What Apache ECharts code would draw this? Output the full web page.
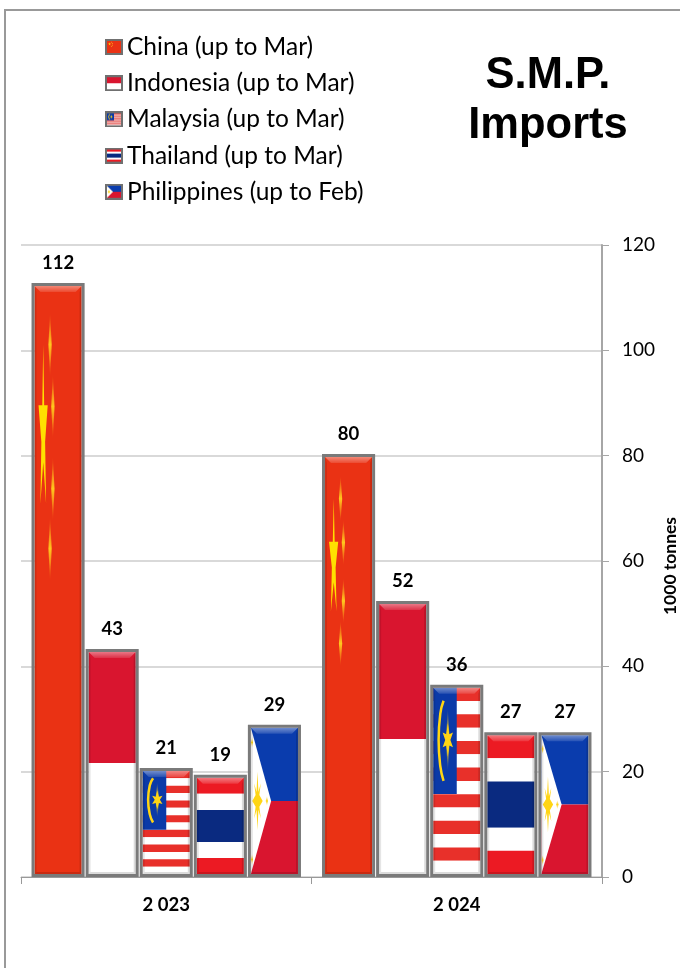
<!DOCTYPE html>
<html>
<head>
<meta charset="utf-8">
<style>html,body{margin:0;padding:0;background:#fff}#c{width:680px;height:968px}</style>
<script src="https://cdn.jsdelivr.net/npm/echarts@6/dist/echarts.min.js"></script>
</head>
<body>
<div id="c"></div>
<script>
const categories = ['2 023', '2 024'];
const china = [112.8, 80.3];
const indonesia = [43.3, 52.4];
const malaysia = [20.7, 36.5];
const thailand = [19.4, 27.5];
const philippines = [28.9, 27.5];
const chinaLabels = [112, 80];
const indonesiaLabels = [43, 52];
const malaysiaLabels = [21, 36];
const thailandLabels = [19, 27];
const philippinesLabels = [29, 27];
const seriesNames = ['China (up to Mar)', 'Indonesia (up to Mar)', 'Malaysia (up to Mar)', 'Thailand (up to Mar)', 'Philippines (up to Feb)'];

const RED_CN = '#EA3214', RED_ID = '#D9152F', RED_MY = '#E8302A', RED_TH = '#EC1A23';
const BLUE_MY = '#0B3AA8', BLUE_TH = '#0A2A80', BLUE_PH = '#0A3CAD', YEL = '#FFE000', GOLD = '#FFD514', WHITE = '#FFFFFF';

function rect(x, y, w, h, c) { return { k: 'rect', x, y, w, h, c }; }
function poly(pts, c, fade) { return { k: 'poly', pts, c, fade }; }
function spike(u, v, hu, hv, c) { return poly([[u, v - hv], [u + hu, v], [u, v + hv], [u - hu, v]], c, true); }

const flagChina = [
  rect(0, 0, 1, 1, RED_CN),
  poly([[.185, .10], [.205, .203], [.28, .203], [.225, .265], [.245, .37], [.185, .30], [.125, .37], [.145, .265], [.085, .203], [.165, .203]], YEL),
  spike(.33, .10, .035, .055, '#FFC81E'),
  spike(.39, .205, .035, .055, '#FFC81E'),
  spike(.39, .345, .035, .055, '#FFC81E'),
  spike(.33, .447, .035, .055, '#FFC81E')
];
const flagIndonesia = [rect(0, 0, 1, .5, RED_ID), rect(0, .5, 1, .5, WHITE)];
const stripes = [];
for (let i = 0; i < 14; i++) stripes.push(rect(0, i / 14, 1, 1 / 14, i % 2 ? WHITE : RED_MY));
const flagMalaysia = stripes.concat([
  rect(0, 0, .5, .57, BLUE_MY),
  { k: 'line', pts: [[.22, .07], [.15, .14], [.115, .28], [.15, .42], [.22, .50]], c: GOLD },
  spike(.31, .28, .04, .17, GOLD),
  poly([[.31, .19], [.34, .25], [.42, .24], [.365, .28], [.42, .32], [.34, .31], [.31, .37], [.28, .31], [.2, .32], [.255, .28], [.2, .24], [.28, .25]], GOLD)
]);
const flagThailand = [
  rect(0, 0, 1, 1 / 6, RED_TH), rect(0, 1 / 6, 1, 1 / 6, WHITE), rect(0, 2 / 6, 1, 2 / 6, BLUE_TH),
  rect(0, 4 / 6, 1, 1 / 6, WHITE), rect(0, 5 / 6, 1, 1 / 6, RED_TH)
];
const flagPhilippines = [
  rect(0, 0, 1, .5, BLUE_PH), rect(0, .5, 1, .5, RED_ID),
  poly([[0, 0], [.43, .5], [0, 1]], WHITE),
  poly([[.14, .3], [.16, .44], [.21, .38], [.18, .46], [.25, .5], [.18, .54], [.21, .62], [.16, .56], [.14, .7], [.12, .56], [.07, .62], [.1, .54], [.03, .5], [.1, .46], [.07, .38], [.12, .44]], GOLD),
  spike(.34, .5, .025, .035, GOLD),
  spike(.025, .1, .02, .04, GOLD),
  spike(.025, .9, .02, .04, GOLD)
];
const flags = [flagChina, flagIndonesia, flagMalaysia, flagThailand, flagPhilippines];
const values = [china, indonesia, malaysia, thailand, philippines];
const labels = [chinaLabels, indonesiaLabels, malaysiaLabels, thailandLabels, philippinesLabels];

function iconFor(flag) {
  const W = 72, H = 64, cv = document.createElement('canvas');
  cv.width = W; cv.height = H;
  const g = cv.getContext('2d'), b = 8, iw = W - 2 * b, ih = H - 2 * b;
  const X = u => b + u * iw, Y = v => b + v * ih;
  g.fillStyle = '#707070'; g.fillRect(0, 0, W, H);
  flag.forEach(p => {
    if (p.k === 'rect') { g.fillStyle = p.c; g.fillRect(X(p.x), Y(p.y), p.w * iw, p.h * ih); }
    else if (p.k === 'poly') {
      g.fillStyle = p.c; g.beginPath();
      p.pts.forEach((q, i) => i ? g.lineTo(X(q[0]), Y(q[1])) : g.moveTo(X(q[0]), Y(q[1])));
      g.closePath(); g.fill();
    } else {
      g.strokeStyle = p.c; g.lineWidth = 3; g.beginPath();
      p.pts.forEach((q, i) => i ? g.lineTo(X(q[0]), Y(q[1])) : g.moveTo(X(q[0]), Y(q[1])));
      g.stroke();
    }
  });
  return 'image://' + cv.toDataURL();
}

const chart = echarts.init(document.getElementById('c'), null, { renderer: 'canvas' });

function renderer(idx) {
  return function (params, api) {
    const layout = api.barLayout({ count: 5, barGap: 0, barCategoryGap: '6.9%' })[idx];
    const cat = api.value(0), val = api.value(1);
    const top = api.coord([cat, val]), base = api.coord([cat, 0]);
    const w = layout.width - 1;
    const x0 = top[0] + layout.offsetCenter - w / 2, y0 = top[1], h = base[1] - top[1];
    const bw = 3, ix = x0 + bw, iy = y0 + bw, iw = w - 2 * bw, ih = h - 2 * bw;
    const X = u => ix + u * iw, Y = v => iy + v * ih;
    const children = [];
    flags[idx].forEach(p => {
      if (p.k === 'rect') {
        children.push({ type: 'rect', shape: { x: X(p.x), y: Y(p.y), width: p.w * iw, height: p.h * ih }, style: { fill: p.c } });
      } else if (p.k === 'poly') {
        const fill = p.fade ? new echarts.graphic.LinearGradient(0, 0, 0, 1, [
          { offset: 0, color: 'rgba(255,200,30,0)' }, { offset: .5, color: p.c }, { offset: 1, color: 'rgba(255,200,30,0)' }
        ]) : p.c;
        children.push({ type: 'polygon', shape: { points: p.pts.map(q => [X(q[0]), Y(q[1])]) }, style: { fill } });
      } else {
        children.push({ type: 'polyline', shape: { points: p.pts.map(q => [X(q[0]), Y(q[1])]), smooth: .5 }, style: { stroke: p.c, fill: 'none', lineWidth: 2.5 } });
      }
    });
    const x1 = ix + iw, y1 = iy + ih, bev = 6, sb = 2;
    children.push({ type: 'polygon', shape: { points: [[ix, iy], [x1, iy], [x1 - bev, iy + bev], [ix + bev, iy + bev]] },
      style: { fill: new echarts.graphic.LinearGradient(0, 0, 0, 1, [{ offset: 0, color: 'rgba(255,255,255,.42)' }, { offset: 1, color: 'rgba(255,255,255,.12)' }]) } });
    children.push({ type: 'polygon', shape: { points: [[ix, iy], [ix + sb, iy + bev], [ix + sb, y1 - sb], [ix, y1]] }, style: { fill: 'rgba(0,0,0,.10)' } });
    children.push({ type: 'polygon', shape: { points: [[x1, iy], [x1 - sb, iy + bev], [x1 - sb, y1 - sb], [x1, y1]] }, style: { fill: 'rgba(0,0,0,.14)' } });
    children.push({ type: 'polygon', shape: { points: [[ix, y1], [ix + sb, y1 - sb], [x1 - sb, y1 - sb], [x1, y1]] }, style: { fill: 'rgba(0,0,0,.14)' } });
    children.push({ type: 'rect', shape: { x: x0 + 1.5, y: y0 + 1.5, width: w - 3, height: h - 3 }, style: { fill: 'none', stroke: '#7A7A7A', lineWidth: 3 } });
    children.push({ type: 'text', style: { text: String(labels[idx][cat]), x: x0 + w / 2, y: y0 - 20, align: 'center', verticalAlign: 'middle',
      font: 'bold 18.5px Lato', fill: '#000' } });
    return { type: 'group', children };
  };
}

chart.setOption({
  animation: false,
  backgroundColor: '#fff',
  title: {
    text: 'S.M.P.\nImports', left: 543, top: 46, textAlign: 'center',
    textStyle: { fontFamily: 'Liberation Sans', fontWeight: 'bold', fontSize: 43.5, lineHeight: 50, color: '#000' }
  },
  graphic: [{ type: 'rect', silent: true, shape: { x: 5, y: 10, width: 700, height: 980 }, style: { fill: 'none', stroke: '#999', lineWidth: 2 } }],
  legend: {
    orient: 'vertical', left: 105, top: 34, itemWidth: 18, itemHeight: 16, itemGap: 10.2, padding: 0,
    textStyle: { fontFamily: 'Lato', fontSize: 24.5, color: '#000', padding: [0, 0, 0, -1], height: 26, lineHeight: 26 },
    data: seriesNames.map((n, i) => ({ name: n, icon: iconFor(flags[i]) }))
  },
  grid: { left: 21, right: 78, top: 245, bottom: 91, outerBoundsMode: 'none' },
  xAxis: {
    type: 'category', data: categories,
    axisLine: { lineStyle: { color: '#999', width: 1 } },
    axisTick: { show: true, length: 7, alignWithLabel: false, lineStyle: { color: '#999' } },
    axisLabel: { fontFamily: 'Lato', fontWeight: 'bold', fontSize: 18.5, color: '#000', margin: 19 },
    splitLine: { show: false }
  },
  yAxis: {
    type: 'value', position: 'right', min: 0, max: 120, interval: 20,
    name: '1000 tonnes', nameLocation: 'middle', nameRotate: 90, nameGap: 59, nameMoveOverlap: false,
    nameTextStyle: { fontFamily: 'Lato', fontWeight: 'bold', fontSize: 17.5, color: '#000', padding: [0, 10, 0, 0] },
    axisLine: { show: true, lineStyle: { color: '#A6A6A6', width: 2 } },
    axisTick: { show: true, length: 7, lineStyle: { color: '#A6A6A6' } },
    axisLabel: { fontFamily: 'Lato', fontSize: 19, color: '#000', margin: 20 },
    splitLine: { show: true, lineStyle: { color: '#D9D9D9', width: 2 } }
  },
  series: seriesNames.map((n, i) => ({
    type: 'custom', name: n, renderItem: renderer(i), encode: { x: 0, y: 1 },
    data: values[i].map((v, c) => [c, v]), clip: false
  }))
});
</script>
</body>
</html>
